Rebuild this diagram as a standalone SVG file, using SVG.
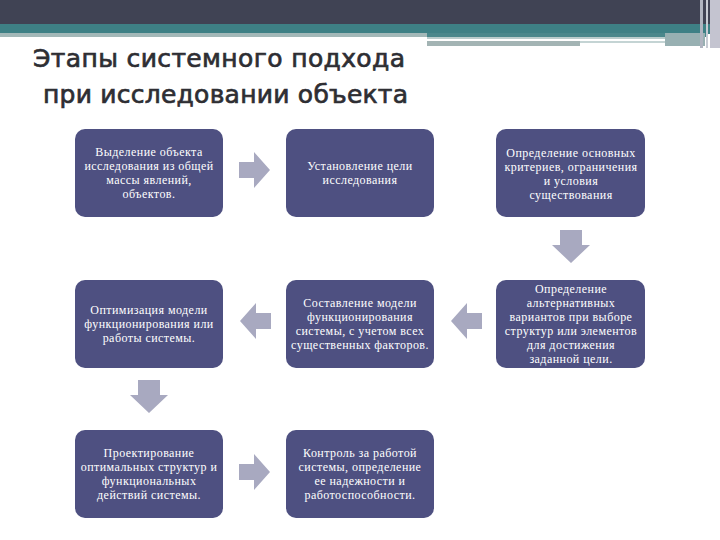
<svg xmlns="http://www.w3.org/2000/svg" width="720" height="540" viewBox="0 0 720 540">
<style>
.box{fill:#4e5081;}
.t{font-family:"Liberation Serif","Times New Roman",serif;font-size:12px;letter-spacing:0.45px;fill:#ffffff;text-anchor:middle;}
.arr{fill:#a8a9c0;}
.title{font-family:"DejaVu Sans",Verdana,sans-serif;font-size:25px;fill:#2e2e33;stroke:#2e2e33;stroke-width:0.7px;}
</style>
<rect x="0" y="0" width="720" height="540" fill="#ffffff"/>
<g id="header">
<rect x="0" y="0" width="720" height="24" fill="#404354"/>
<rect x="0" y="24" width="720" height="10" fill="#3e8085"/>
<rect x="0" y="33" width="427" height="4" fill="#a3b8b8"/>
<rect x="427" y="33" width="280" height="4" fill="#4a878b"/>
<rect x="427" y="37" width="238" height="2" fill="#b9cccc"/>
<rect x="427" y="41" width="153" height="5" fill="#a3b4b4"/>
<rect x="580" y="41" width="85" height="2" fill="#c4d4d4"/>
<rect x="665" y="33" width="40" height="13" fill="#98b0b2"/>
<rect x="700" y="0" width="3" height="48" fill="#b0b4c0"/>
<rect x="706" y="0" width="2" height="48" fill="#c8ccd4"/>
<rect x="710" y="0" width="10" height="48" fill="#c4c4d0"/>
</g>
<g id="title">
<text class="title" x="33" y="67" textLength="372">Этапы системного подхода</text>
<text class="title" x="43" y="103" textLength="365">при исследовании объекта</text>
</g>
<g id="connectors">
<polygon class="arr" points="239,162 254,162 254,152 270,170 254,188 254,178 239,178"/>
<polygon class="arr" points="560,230 582,230 582,245 590,245 571,263 552,245 560,245"/>
<polygon class="arr" points="482,313 467,313 467,303 451,321 467,339 467,329 482,329"/>
<polygon class="arr" points="271,313 256,313 256,303 240,321 256,339 256,329 271,329"/>
<polygon class="arr" points="138,380 160,380 160,395 168,395 149,413 130,395 138,395"/>
<polygon class="arr" points="239,464 254,464 254,454 270,472 254,490 254,480 239,480"/>
</g>
<g id="n1"><rect class="box" x="75" y="129" width="148" height="88" rx="10"/>
<text class="t"><tspan x="149" y="156">Выделение объекта</tspan><tspan x="149" y="170">исследования из общей</tspan><tspan x="149" y="184">массы явлений,</tspan><tspan x="149" y="198">объектов.</tspan></text></g>
<g id="n2"><rect class="box" x="286" y="129" width="148" height="88" rx="10"/>
<text class="t"><tspan x="360" y="170">Установление цели</tspan><tspan x="360" y="184">исследования</tspan></text></g>
<g id="n3"><rect class="box" x="496" y="129" width="149" height="88" rx="10"/>
<text class="t"><tspan x="571" y="157">Определение основных</tspan><tspan x="571" y="171">критериев, ограничения</tspan><tspan x="571" y="185">и условия</tspan><tspan x="571" y="199">существования</tspan></text></g>
<g id="n4"><rect class="box" x="75" y="280" width="148" height="88" rx="10"/>
<text class="t"><tspan x="149" y="314">Оптимизация модели</tspan><tspan x="149" y="328">функционирования или</tspan><tspan x="149" y="342">работы системы.</tspan></text></g>
<g id="n5"><rect class="box" x="286" y="280" width="148" height="88" rx="10"/>
<text class="t"><tspan x="360" y="307">Составление модели</tspan><tspan x="360" y="321">функционирования</tspan><tspan x="360" y="335">системы, с учетом всех</tspan><tspan x="360" y="349">существенных факторов.</tspan></text></g>
<g id="n6"><rect class="box" x="496" y="280" width="149" height="88" rx="10"/>
<text class="t"><tspan x="571" y="293">Определение</tspan><tspan x="571" y="307">альтернативных</tspan><tspan x="571" y="321">вариантов при выборе</tspan><tspan x="571" y="335">структур или элементов</tspan><tspan x="571" y="349">для достижения</tspan><tspan x="571" y="363">заданной цели.</tspan></text></g>
<g id="n7"><rect class="box" x="75" y="430" width="148" height="88" rx="10"/>
<text class="t"><tspan x="149" y="457">Проектирование</tspan><tspan x="149" y="471">оптимальных структур и</tspan><tspan x="149" y="485">функциональных</tspan><tspan x="149" y="499">действий системы.</tspan></text></g>
<g id="n8"><rect class="box" x="286" y="430" width="148" height="88" rx="10"/>
<text class="t"><tspan x="360" y="457">Контроль за работой</tspan><tspan x="360" y="471">системы, определение</tspan><tspan x="360" y="485">ее надежности и</tspan><tspan x="360" y="499">работоспособности.</tspan></text></g>
</svg>
